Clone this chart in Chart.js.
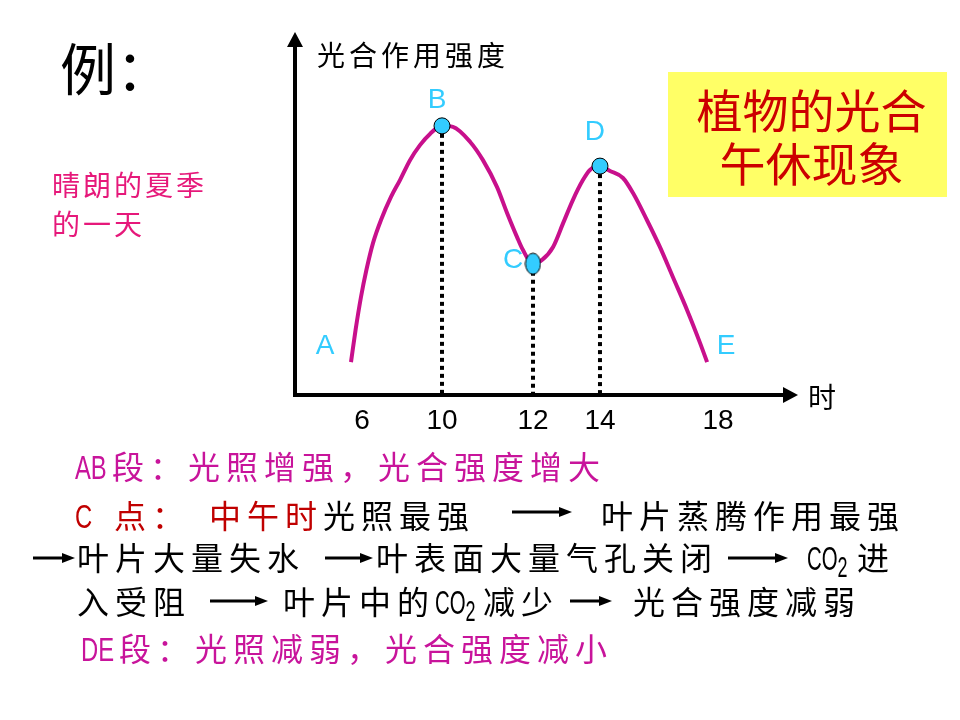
<!DOCTYPE html>
<html lang="zh-CN">
<head>
<meta charset="utf-8">
<title>植物的光合午休现象</title>
<script src="https://cdn.jsdelivr.net/npm/chart.js@4.4.1/dist/chart.umd.min.js"></script>
<style>
  body { margin: 0; background: #fff; overflow: hidden; }
  #wrap { position: relative; width: 960px; height: 720px; }
  #chartBox { position: absolute; left: 0; top: 0; width: 960px; height: 720px; }
  .t { position: absolute; white-space: nowrap; line-height: 1; font-family: "Noto Sans CJK SC", sans-serif; }
  .line { font-size: 32px; letter-spacing: 6px; }
  .lat { display: inline-block; letter-spacing: 0; font-family: "Liberation Sans", sans-serif; font-size: 34px; }
  .lat i { display: inline-block; font-style: normal; transform-origin: 0 0; transform: scaleX(0.7); }
  .lat b { font-weight: normal; font-size: 30px; position: relative; top: 7px; }
  .mag { color: #c8149b; }
  .red { color: #c00000; }
  .blk { color: #000; }
  #box { position: absolute; left: 668px; top: 72px; width: 279px; height: 125px; background: #ffff66; }
  #box .t { left: 4px; width: 100%; text-align: center; font-size: 46px; color: #cc0000; }
  svg.arr { position: absolute; }
</style>
</head>
<body>
<div id="wrap">
  <div id="chartBox"><canvas id="graphCanvas"></canvas></div>

  <div class="t" style="left:60px;top:38px;font-size:56px;color:#000;">例：</div>
  <div class="t" style="left:52px;top:170px;font-size:28px;letter-spacing:3px;color:#e6187a;">晴朗的夏季</div>
  <div class="t" style="left:52px;top:209px;font-size:28px;letter-spacing:3px;color:#e6187a;">的一天</div>

  <div id="box">
    <div class="t" style="top:13px;">植物的光合</div>
    <div class="t" style="top:66px;">午休现象</div>
  </div>

  <div class="t line mag" style="left:75px;top:449px;"><span class="lat" style="width:37px"><i>AB</i></span>段：光照增强，光合强度增大</div>

  <div class="t line red" style="left:75px;top:498px;"><span class="lat" style="width:20px"><i>C</i></span></div>
  <div class="t line red" style="left:114px;top:498px;">点：</div>
  <div class="t line red" style="left:209px;top:498px;">中午时<span class="blk">光照最强</span></div>
  <div class="t line blk" style="left:601px;top:498px;">叶片蒸腾作用最强</div>

  <div class="t line blk" style="left:77px;top:540px;">叶片大量失水</div>
  <div class="t line blk" style="left:376px;top:540px;">叶表面大量气孔关闭</div>
  <div class="t line blk" style="left:807px;top:540px;"><span class="lat" style="width:50px"><i style="transform:scaleX(0.6)">CO<b>2</b></i></span>进</div>

  <div class="t line blk" style="left:77px;top:584px;">入受阻</div>
  <div class="t line blk" style="left:283px;top:584px;">叶片中的<span class="lat" style="width:48px"><i style="transform:scaleX(0.6)">CO<b>2</b></i></span>减少</div>
  <div class="t line blk" style="left:633px;top:584px;">光合强度减弱</div>

  <div class="t line mag" style="left:81px;top:631px;"><span class="lat" style="width:38px"><i>DE</i></span>段：光照减弱，光合强度减小</div>
</div>

<script>
// curve: hour of day vs photosynthesis intensity (schematic units)
var hours = [5.45, 5.68, 5.95, 6.22, 6.55, 6.95, 7.45, 7.9, 8.4, 8.9, 9.4, 10,
             10.24, 10.62, 10.9, 11.21, 11.43, 11.65, 11.78, 12,
             12.27, 12.6, 12.9, 13.19, 13.49, 13.7, 14,
             14.34, 14.78, 15.12, 15.59, 16.03, 16.47, 16.95, 17.39, 17.63];
var intensity = [9.4, 18.6, 28, 35.7, 43.4, 50, 56.6, 61.4, 67.1, 71.4, 74.6, 76.9,
                 76.6, 72.3, 67.1, 59.4, 52, 45.1, 41.4, 37.5,
                 38.6, 42.3, 49.1, 55.7, 61.4, 64.3, 65.4,
                 64, 62, 57.7, 50, 42.3, 33.7, 24.3, 14.9, 9.4];

// labelled points A..E
var keyNames = ['A', 'B', 'C', 'D', 'E'];
var keyHours = [5.45, 10, 12, 14, 17.63];
var keyValues = [9.4, 76.9, 37.5, 65.4, 9.4];

var tickHours = [6, 10, 12, 14, 18];
var yTitle = '光合作用强度';
var xTitle = '时';

// the slide's time axis is not evenly spaced: piecewise mapping hour -> fraction of axis
var warpHours = [2.65, 6, 10, 12, 14, 18, 20.27];
var warpFrac = [0, 0.1367, 0.3, 0.4857, 0.6224, 0.8633, 1];

function interp(v, xs, ys) {
    var n = xs.length - 1;
    if (v <= xs[0]) return ys[0] + (v - xs[0]) * (ys[1] - ys[0]) / (xs[1] - xs[0]);
    for (var i = 1; i <= n; i++) {
        if (v <= xs[i]) {
            var t = (v - xs[i - 1]) / (xs[i] - xs[i - 1]);
            return ys[i - 1] + t * (ys[i] - ys[i - 1]);
        }
    }
    return ys[n] + (v - xs[n]) * (ys[n] - ys[n - 1]) / (xs[n] - xs[n - 1]);
}

class WarpScale extends Chart.LinearScale {
    getPixelForValue(v) {
        if (v === null || isNaN(v)) return NaN;
        return this.getPixelForDecimal(interp(v, warpHours, warpFrac));
    }
    getValueForPixel(p) {
        return interp(this.getDecimalForPixel(p), warpFrac, warpHours);
    }
}
WarpScale.id = 'warp';
WarpScale.defaults = {};
Chart.register(WarpScale);

function ellipseMarker(w, h) {
    var c = document.createElement('canvas');
    c.width = w + 2;
    c.height = h + 2;
    var g = c.getContext('2d');
    g.beginPath();
    g.ellipse(c.width / 2, c.height / 2, w / 2, h / 2, 0, 0, Math.PI * 2);
    g.fillStyle = '#33ccff';
    g.fill();
    g.lineWidth = 1;
    g.strokeStyle = '#000';
    g.stroke();
    return c;
}

var labelOffsets = [[-26, -16], [-5, -26], [-20, -3], [-5, -34], [19, -16]];

var slideDecor = {
    id: 'slideDecor',
    afterDatasetsDraw: function (chart) {
        var ctx = chart.ctx;
        var a = chart.chartArea;
        var xs = chart.scales.x, ys = chart.scales.y;
        ctx.save();
        ctx.fillStyle = '#000';
        // arrow heads
        ctx.beginPath();
        ctx.moveTo(a.left, a.top - 13);
        ctx.lineTo(a.left - 8, a.top + 2);
        ctx.lineTo(a.left + 8, a.top + 2);
        ctx.closePath();
        ctx.fill();
        ctx.beginPath();
        ctx.moveTo(a.right + 13, a.bottom);
        ctx.lineTo(a.right - 2, a.bottom - 8);
        ctx.lineTo(a.right - 2, a.bottom + 8);
        ctx.closePath();
        ctx.fill();
        // axis titles
        ctx.textBaseline = 'middle';
        ctx.textAlign = 'left';
        ctx.font = '28px "Noto Sans CJK SC"';
        ctx.letterSpacing = '4px';
        ctx.fillText(yTitle, a.left + 22, a.top + 10);
        ctx.letterSpacing = '0px';
        ctx.fillText(xTitle, a.right + 23, a.bottom + 2);
        // point names
        ctx.fillStyle = '#33ccff';
        ctx.textAlign = 'center';
        ctx.font = '28px "Liberation Sans", sans-serif';
        for (var i = 0; i < keyNames.length; i++) {
            var px = xs.getPixelForValue(keyHours[i]);
            var py = ys.getPixelForValue(keyValues[i]);
            ctx.fillText(keyNames[i], px + labelOffsets[i][0], py + labelOffsets[i][1]);
        }
        ctx.restore();
    }
};

var datasets = [];

datasets.push({
    label: 'curve',
    data: hours.map(function (h, i) { return {x: h, y: intensity[i]}; }),
    borderColor: '#c8108c',
    borderWidth: 4,
    pointRadius: 0,
    cubicInterpolationMode: 'monotone',
    fill: false,
    clip: false,
    order: 2
});

for (var k = 1; k <= 3; k++) {
    datasets.push({
        label: 'drop' + keyNames[k],
        data: [{x: keyHours[k], y: keyValues[k]}, {x: keyHours[k], y: 0}],
        borderColor: '#000',
        borderWidth: 4,
        borderDash: [4, 4],
        pointRadius: 0,
        fill: false,
        clip: false,
        order: 3
    });
}

datasets.push({
    label: 'marks',
    data: [1, 2, 3].map(function (i) { return {x: keyHours[i], y: keyValues[i]}; }),
    showLine: false,
    pointStyle: ['circle', ellipseMarker(15, 21), 'circle'],
    pointRadius: 8,
    pointBackgroundColor: '#33ccff',
    pointBorderColor: '#000',
    pointBorderWidth: 1,
    clip: false,
    order: 1
});

var graphTarget = document.getElementById('graphCanvas');

var photoChart = new Chart(graphTarget, {
    type: 'line',
    data: {datasets: datasets},
    plugins: [slideDecor],
    options: {
        responsive: true,
        maintainAspectRatio: false,
        animation: false,
        events: [],
        layout: {padding: {left: 295, top: 45, right: 175, bottom: 280}},
        plugins: {legend: {display: false}, tooltip: {enabled: false}},
        scales: {
            x: {
                type: 'warp',
                min: warpHours[0],
                max: warpHours[warpHours.length - 1],
                bounds: 'data',
                afterBuildTicks: function (s) { s.ticks = tickHours.map(function (v) { return {value: v}; }); },
                afterFit: function (s) { s.height = 45; },
                grid: {display: false, drawTicks: false},
                border: {display: true, width: 4, color: '#000'},
                ticks: {
                    autoSkip: false,
                    maxRotation: 0,
                    padding: 9,
                    color: '#000',
                    font: {family: '"Liberation Sans", sans-serif', size: 28},
                    callback: function (v) { return String(v); }
                }
            },
            y: {
                type: 'linear',
                min: 0,
                max: 100,
                bounds: 'data',
                afterFit: function (s) { s.width = 0; },
                grid: {display: false, drawTicks: false},
                border: {display: true, width: 4, color: '#000'},
                ticks: {display: false}
            }
        }
    }
});

function addArrow(x1, x2, y) {
    var ns = 'http://www.w3.org/2000/svg';
    var svg = document.createElementNS(ns, 'svg');
    var w = x2 - x1;
    svg.setAttribute('class', 'arr');
    svg.setAttribute('width', w);
    svg.setAttribute('height', 12);
    svg.style.left = x1 + 'px';
    svg.style.top = (y - 6) + 'px';
    var ln = document.createElementNS(ns, 'line');
    ln.setAttribute('x1', 0); ln.setAttribute('y1', 6);
    ln.setAttribute('x2', w - 10); ln.setAttribute('y2', 6);
    ln.setAttribute('stroke', '#000'); ln.setAttribute('stroke-width', 3);
    var hd = document.createElementNS(ns, 'polygon');
    hd.setAttribute('points', (w - 13) + ',1 ' + w + ',6 ' + (w - 13) + ',11');
    hd.setAttribute('fill', '#000');
    svg.appendChild(ln);
    svg.appendChild(hd);
    document.getElementById('wrap').appendChild(svg);
}

[[512, 572, 512], [33, 75, 558], [325, 373, 558], [728, 788, 558], [210, 268, 601], [570, 612, 601]]
    .forEach(function (a) { addArrow(a[0], a[1], a[2]); });
</script>
</body>
</html>
